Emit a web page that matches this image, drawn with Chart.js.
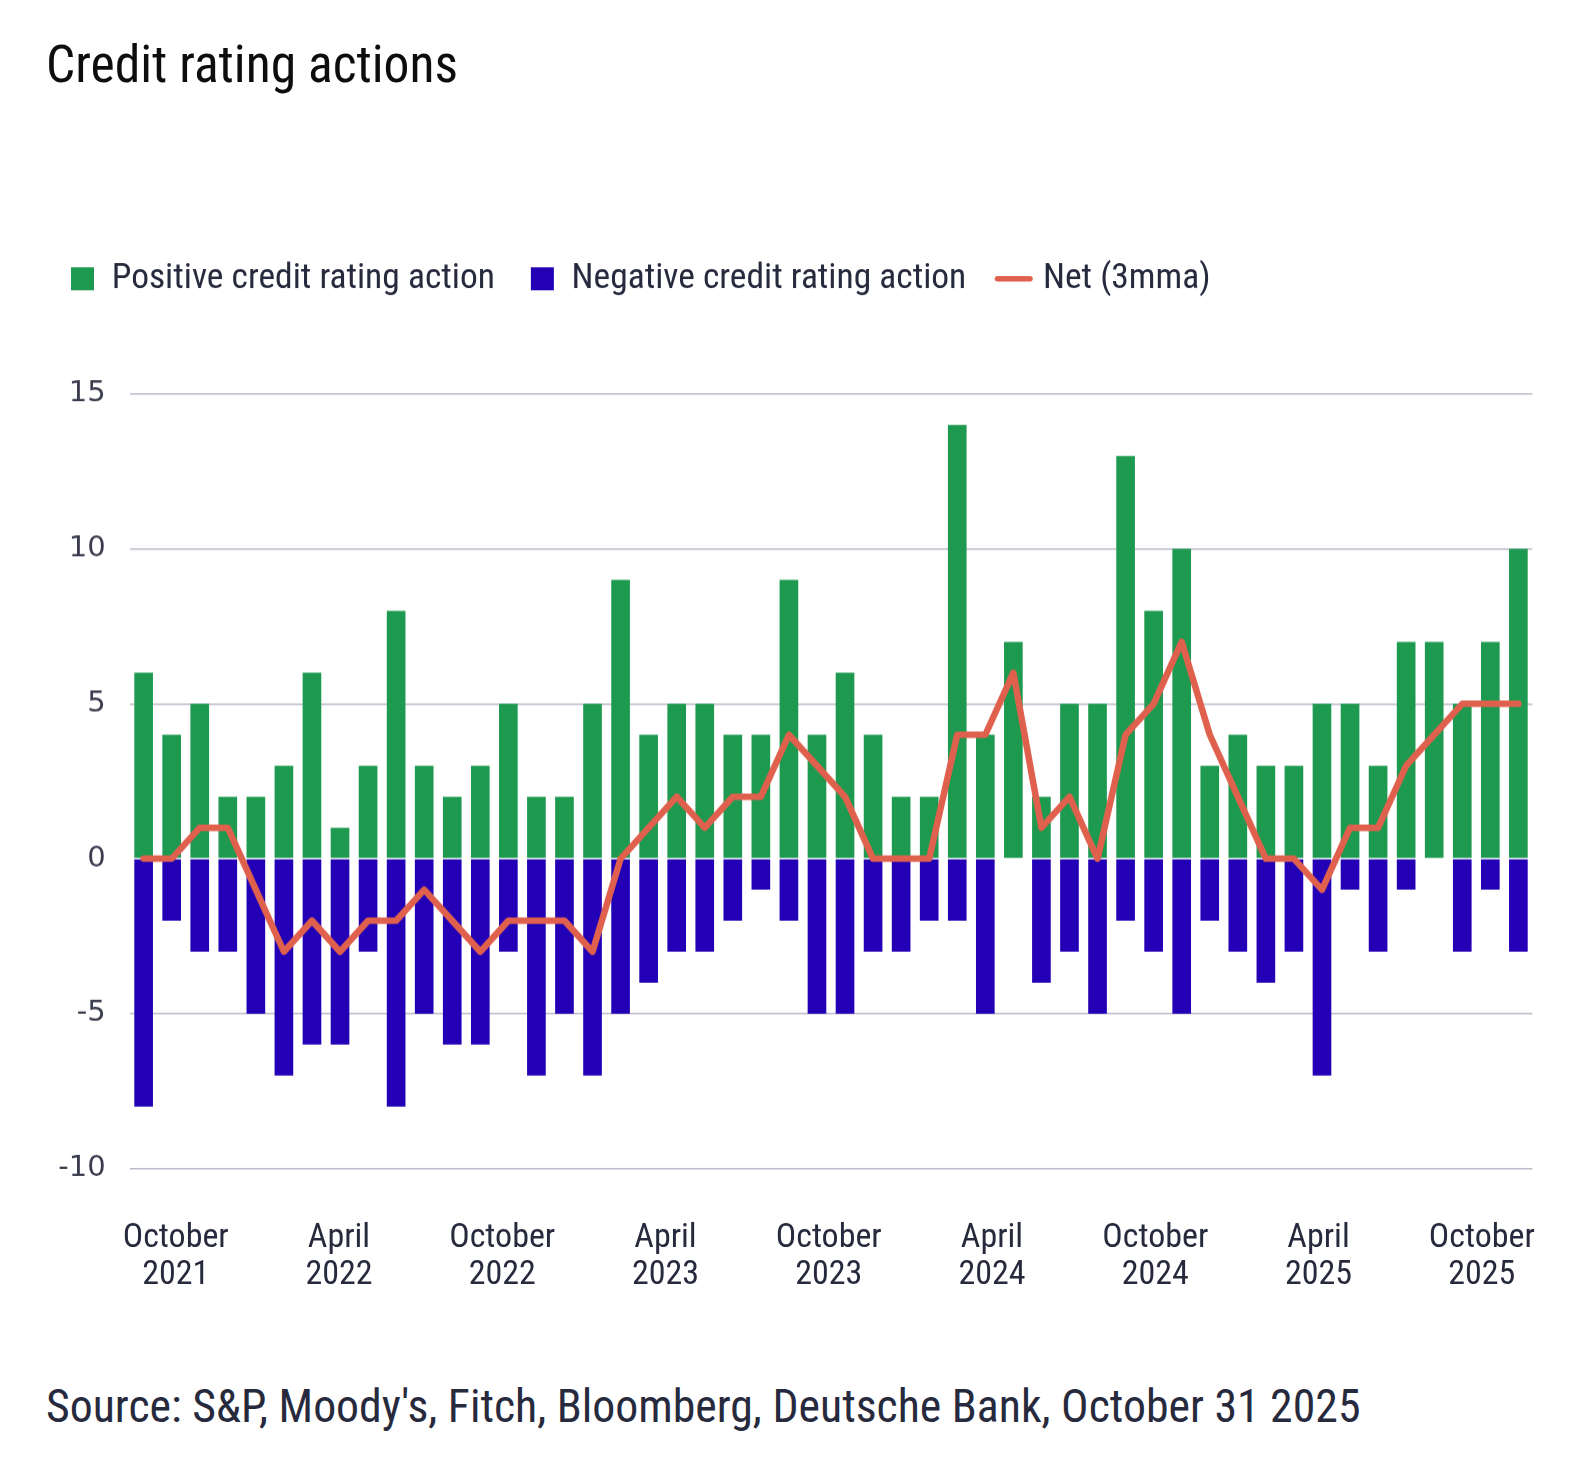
<!DOCTYPE html>
<html>
<head>
<meta charset="utf-8">
<title>Credit rating actions</title>
<script src="https://cdn.jsdelivr.net/npm/chart.js@4.4.1/dist/chart.umd.min.js"></script>
<style>
  html, body { margin: 0; padding: 0; background: #fff; }
  body { width: 1588px; height: 1466px; position: relative; overflow: hidden;
         font-family: "Roboto Condensed", "DejaVu Sans Condensed", sans-serif; }
  #title { position: absolute; left: 46px; top: 39px; line-height: 1; color: #0d0d0d; white-space: nowrap; }
  #source { position: absolute; left: 46px; top: 1384px; line-height: 1; color: #272a3d; white-space: nowrap; }
  #wrap { position: absolute; left: 35px; top: 221px; width: 1553px; height: 1077px; }
</style>
</head>
<body>
<div id="title">Credit rating actions</div>
<div id="wrap"><canvas id="myChart"></canvas></div>
<div id="source">Source: S&amp;P, Moody's, Fitch, Bloomberg, Deutsche Bank, October 31 2025</div>
<script>
// monthly data, Sep 2021 - Oct 2025
var months = [
  'Sep 2021', 'Oct 2021', 'Nov 2021', 'Dec 2021',
  'Jan 2022', 'Feb 2022', 'Mar 2022', 'Apr 2022', 'May 2022', 'Jun 2022', 'Jul 2022', 'Aug 2022', 'Sep 2022', 'Oct 2022', 'Nov 2022', 'Dec 2022',
  'Jan 2023', 'Feb 2023', 'Mar 2023', 'Apr 2023', 'May 2023', 'Jun 2023', 'Jul 2023', 'Aug 2023', 'Sep 2023', 'Oct 2023', 'Nov 2023', 'Dec 2023',
  'Jan 2024', 'Feb 2024', 'Mar 2024', 'Apr 2024', 'May 2024', 'Jun 2024', 'Jul 2024', 'Aug 2024', 'Sep 2024', 'Oct 2024', 'Nov 2024', 'Dec 2024',
  'Jan 2025', 'Feb 2025', 'Mar 2025', 'Apr 2025', 'May 2025', 'Jun 2025', 'Jul 2025', 'Aug 2025', 'Sep 2025', 'Oct 2025'
];

var positive = [6, 4, 5, 2, 2, 3, 6, 1, 3, 8,
                3, 2, 3, 5, 2, 2, 5, 9, 4, 5,
                5, 4, 4, 9, 4, 6, 4, 2, 2, 14,
                4, 7, 2, 5, 5, 13, 8, 10, 3, 4,
                3, 3, 5, 5, 3, 7, 7, 5, 7, 10];

var negative = [-8, -2, -3, -3, -5, -7, -6, -6, -3, -8,
                -5, -6, -6, -3, -7, -5, -7, -5, -4, -3,
                -3, -2, -1, -2, -5, -5, -3, -3, -2, -2,
                -5, 0, -4, -3, -5, -2, -3, -5, -2, -3,
                -4, -3, -7, -1, -3, -1, 0, -3, -1, -3];

var net3mma = [0, 0, 1, 1, -1, -3, -2, -3, -2, -2,
               -1, -2, -3, -2, -2, -2, -3, 0, 1, 2,
               1, 2, 2, 4, 3, 2, 0, 0, 0, 4,
               4, 6, 1, 2, 0, 4, 5, 7, 4, 2,
               0, 0, -1, 1, 1, 3, 4, 5, 5, 5];

// bottom labels, in months counted from October 2021
var tickMonths = [0, 6, 12, 18, 24, 30, 36, 42, 48];
var tickLabels = [
  ['October', '2021'], ['April', '2022'], ['October', '2022'],
  ['April', '2023'], ['October', '2023'], ['April', '2024'],
  ['October', '2024'], ['April', '2025'], ['October', '2025']
];

var green = '#1d9a4f';
var blue = '#2300b5';
var red = '#e0604e';
var gridColor = '#b9b9c9';
var ink = '#272a3d';
var family = '"Roboto Condensed", "DejaVu Sans Condensed", sans-serif';

// size the text so it takes the same width as in the original
var probe = document.createElement('canvas').getContext('2d');
function fitSize(text, target) {
  probe.font = '100px ' + family;
  return 100 * target / probe.measureText(text).width;
}
var titleSize = fitSize('Credit rating actions', 412);
var legendSize = (fitSize('Positive credit rating action', 382) + fitSize('Negative credit rating action', 396)) / 2;
var tickSize = fitSize('October', 106);
var sourceSize = fitSize("Source: S&P, Moody's, Fitch, Bloomberg, Deutsche Bank, October 31 2025", 1315);

document.getElementById('title').style.fontSize = titleSize + 'px';
document.getElementById('source').style.fontSize = sourceSize + 'px';

// plot area runs from y=394 to y=1168 on the page
var wrapTop = 279 - 36 - legendSize / 2;
var wrap = document.getElementById('wrap');
wrap.style.top = wrapTop + 'px';
wrap.style.height = (1298 - wrapTop) + 'px';

var legendGap = {
  id: 'legendGap',
  afterInit: function(chart) {
    var fit = chart.legend.fit;
    chart.legend.fit = function() {
      fit.call(this);
      this.height = 394 - wrapTop;
    };
  }
};

document.addEventListener("DOMContentLoaded", function(event) {
  var ctx = document.getElementById('myChart').getContext('2d');

  var myChart = new Chart(ctx, {
    type: 'bar',
    data: {
      labels: months,
      datasets: [
        { label: 'Positive credit rating action', data: positive, backgroundColor: green,
          borderWidth: 0, stack: 'actions', order: 1,
          categoryPercentage: 1, barPercentage: 0.665 },
        { label: 'Negative credit rating action', data: negative, backgroundColor: blue,
          borderWidth: 0, stack: 'actions', order: 1,
          categoryPercentage: 1, barPercentage: 0.665 },
        { type: 'line', label: 'Net (3mma)', data: net3mma, borderColor: red, backgroundColor: red,
          borderWidth: 6.5, pointRadius: 0, pointHoverRadius: 0, tension: 0,
          borderCapStyle: 'round', borderJoinStyle: 'round', stack: 'net', order: 0 }
      ]
    },
    options: {
      responsive: true,
      maintainAspectRatio: false,
      animation: false,
      layout: { padding: { left: 0, right: 55.6, top: 0, bottom: 0 } },
      plugins: {
        tooltip: { enabled: false },
        legend: {
          position: 'top',
          align: 'start',
          labels: {
            usePointStyle: true,
            boxWidth: 23,
            boxHeight: 23,
            padding: 36,
            color: ink,
            font: { family: family, size: legendSize },
            generateLabels: function(chart) {
              var items = Chart.defaults.plugins.legend.labels.generateLabels(chart);
              items.forEach(function(it) {
                if (it.datasetIndex === 2) {
                  it.pointStyle = 'line';
                  it.strokeStyle = red;
                  it.lineWidth = 5.5;
                  it.lineCap = 'round';
                } else {
                  it.pointStyle = 'rect';
                  it.lineWidth = 0;
                }
              });
              return items;
            },
            sort: function(a, b) { return a.datasetIndex - b.datasetIndex; }
          }
        }
      },
      scales: {
        x: { stacked: true, display: false },
        xl: {
          type: 'linear',
          position: 'bottom',
          offset: false,
          min: -1.694,
          max: 49.86,
          grid: { display: false, drawTicks: false, offset: false },
          border: { display: false },
          afterBuildTicks: function(axis) {
            axis.ticks = tickMonths.map(function(v) { return { value: v }; });
          },
          afterFit: function(axis) { axis.height = 130; },
          ticks: {
            autoSkip: false,
            maxRotation: 0,
            padding: 51,
            color: ink,
            font: { family: family, size: tickSize, lineHeight: 37 / tickSize },
            callback: function(value) {
              var i = tickMonths.indexOf(value);
              return i < 0 ? '' : tickLabels[i];
            }
          }
        },
        y: {
          stacked: true,
          min: -10,
          max: 15,
          border: { display: false },
          grid: {
            drawTicks: false,
            lineWidth: 1.5,
            color: function(c) {
              return c.tick && c.tick.value === 0 ? 'rgba(0,0,0,0)' : gridColor;
            }
          },
          ticks: {
            stepSize: 5,
            padding: 24,
            color: '#3a3c4e',
            font: { family: '"DejaVu Sans", sans-serif', size: 29 }
          },
          afterFit: function(scale) { scale.width = 94.6; }
        }
      }
    },
    plugins: [legendGap]
  });
});
</script>
</body>
</html>
